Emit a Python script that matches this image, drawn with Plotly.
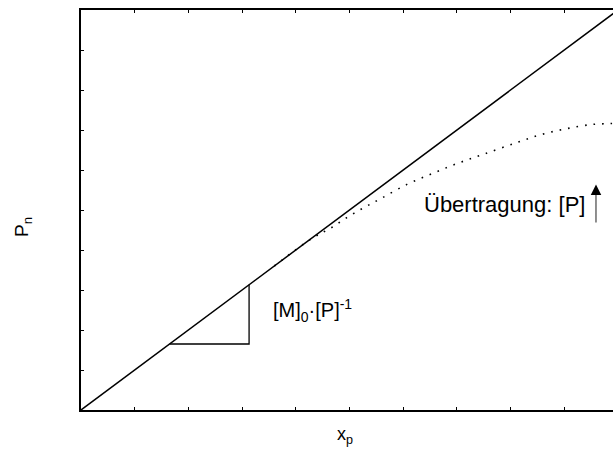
import plotly.graph_objects as go

# Ideal growth: degree of polymerisation rises linearly with conversion
ideal_x = [0.0, 10.0]
ideal_y = [0.0, 10.0]

# With chain transfer to polymer the curve bends away from the line
transfer_x = [3.6, 4.30, 4.64, 4.95, 5.27, 5.59, 6.07, 6.54, 7.00, 7.49, 8.12, 8.58, 9.07, 9.53, 9.85, 9.95]
transfer_y = [3.6, 4.29, 4.54, 4.81, 5.06, 5.29, 5.64, 5.91, 6.16, 6.39, 6.69, 6.89, 7.04, 7.14, 7.16, 7.17]

# Slope triangle on the ideal line
slope_x = [1.65, 3.13, 3.13]
slope_y = [1.65, 1.65, 3.13]

# Arrow marking the effect of increasing [P]
arrow_x = [9.59, 9.59]
arrow_y = [4.69, 5.50]
arrow_tip_y = 5.64

FONT = "Arial, Liberation Sans, sans-serif"

fig = go.Figure()
fig.add_trace(go.Scatter(x=ideal_x, y=ideal_y, mode="lines",
                         line=dict(color="black", width=1.5), hoverinfo="skip"))
fig.add_trace(go.Scatter(x=transfer_x, y=transfer_y, mode="lines",
                         line=dict(color="black", width=1.6, dash="1.6px,7px", shape="spline"),
                         hoverinfo="skip"))
fig.add_trace(go.Scatter(x=slope_x, y=slope_y, mode="lines",
                         line=dict(color="black", width=1.3), hoverinfo="skip"))
fig.add_trace(go.Scatter(x=arrow_x, y=arrow_y, mode="lines",
                         line=dict(color="#333333", width=1.1), hoverinfo="skip"))
fig.add_trace(go.Scatter(x=[arrow_x[0]], y=[arrow_tip_y], mode="markers",
                         marker=dict(symbol="arrow-up", size=10.5, color="black",
                                     line=dict(width=0)),
                         hoverinfo="skip"))

# Text labels, placed by pixel centre
labels = [
    dict(x=504, y=204, text="Übertragung: [P]", size=22, angle=0),
    dict(x=312, y=310, text="[M]<sub>0</sub>·[P]<sup>-1</sup>", size=20, angle=0),
    dict(x=345, y=435, text="x<sub>p</sub>", size=18, angle=0),
    dict(x=23, y=227, text="P<sub>n</sub>", size=19, angle=-90),
]

W, H = 613, 450
L, R, T, B = 81, 0, 10, 40
for lab in labels:
    fig.add_annotation(
        x=(lab["x"] - L) / (W - L - R),
        y=1 - (lab["y"] - T) / (H - T - B),
        xref="paper", yref="paper", xanchor="center", yanchor="middle",
        text=lab["text"], textangle=lab["angle"], showarrow=False,
        font=dict(family=FONT, size=lab["size"], color="black"),
    )

axis_common = dict(showgrid=False, zeroline=False, showticklabels=False,
                   ticks="inside", ticklen=3, tickwidth=1.2, tickcolor="black",
                   showline=True, linecolor="black", linewidth=2, dtick=1, tick0=0)

fig.update_layout(
    width=W, height=H,
    margin=dict(l=L, r=R, t=T, b=B),
    paper_bgcolor="white", plot_bgcolor="white",
    showlegend=False,
    xaxis=dict(range=[0, 532 / 53.7], mirror="ticks", **axis_common),
    yaxis=dict(range=[0, 10], mirror=False, **axis_common),
)

fig.write_html("out.html")
